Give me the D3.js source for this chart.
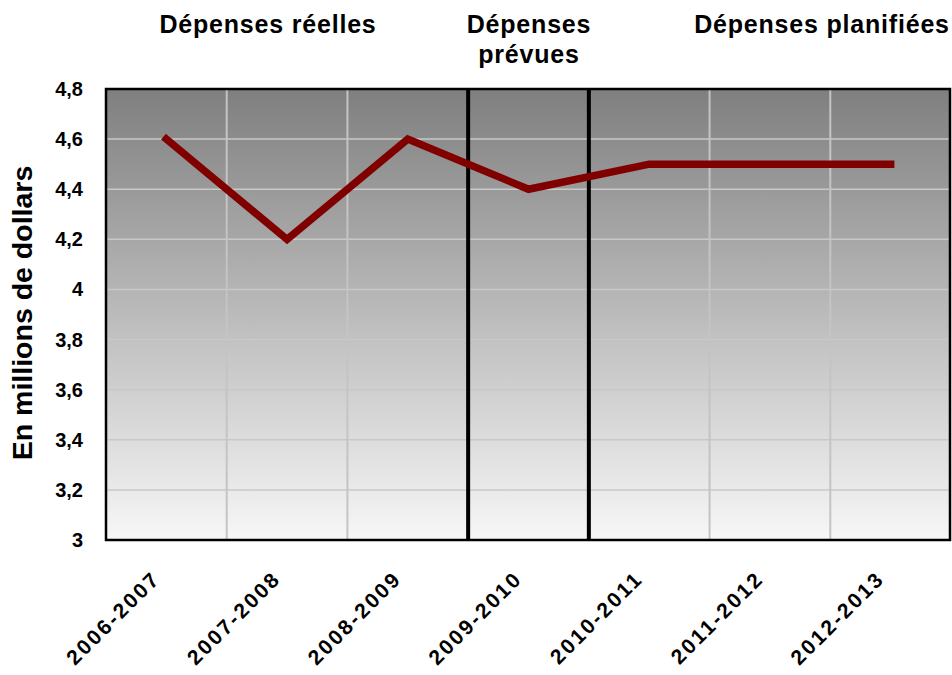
<!DOCTYPE html>
<html>
<head>
<meta charset="utf-8">
<style>
  body { margin: 0; background: #fff; }
  svg text { font-family: "Liberation Sans", Arial, sans-serif; font-weight: bold; fill: #000; }
</style>
</head>
<body>
<div id="chart"></div>
<script src="https://cdn.jsdelivr.net/npm/d3@7"></script>
<script>
// data
const years = ["2006-2007", "2007-2008", "2008-2009", "2009-2010", "2010-2011", "2011-2012", "2012-2013"];
const spending = [4.6, 4.2, 4.6, 4.4, 4.5, 4.5, 4.5];
const yTicks = [3, 3.2, 3.4, 3.6, 3.8, 4, 4.2, 4.4, 4.6, 4.8];
const sections = [
  {lines: ["Dépenses réelles"], at: 268},
  {lines: ["Dépenses", "prévues"], at: 529},
  {lines: ["Dépenses planifiées"], at: 822}
];
const dividers = ["2009-2010", "2010-2011"]; // thick black line at start of these bands

const width = 952, height = 675;
const m = {top: 89, right: 1, bottom: 135, left: 106};

const svg = d3.select("#chart").append("svg")
  .attr("width", width).attr("height", height);

const defs = svg.append("defs");
const grad = defs.append("linearGradient")
  .attr("id", "bg").attr("x1", 0).attr("y1", 0).attr("x2", 0).attr("y2", 1);
grad.append("stop").attr("offset", "0%").attr("stop-color", "#7f7f7f");
grad.append("stop").attr("offset", "100%").attr("stop-color", "#f7f7f7");

const x = d3.scaleBand().domain(years).range([m.left, width - m.right]);
const y = d3.scaleLinear().domain([3, 4.8]).range([height - m.bottom, m.top]);

// plot background
svg.append("rect")
  .attr("x", m.left).attr("y", m.top)
  .attr("width", width - m.right - m.left).attr("height", height - m.bottom - m.top)
  .attr("fill", "url(#bg)");

// horizontal grid
svg.append("g").selectAll("line").data(yTicks.slice(1, -1)).join("line")
  .attr("x1", m.left).attr("x2", width - m.right)
  .attr("y1", d => y(d)).attr("y2", d => y(d))
  .attr("stroke", "#c8c8c8").attr("stroke-width", 1.5);

// vertical grid at band boundaries
svg.append("g").selectAll("line").data(years.slice(1).filter(d => !dividers.includes(d))).join("line")
  .attr("x1", d => x(d)).attr("x2", d => x(d))
  .attr("y1", m.top).attr("y2", height - m.bottom)
  .attr("stroke", "#c4c4c4").attr("stroke-width", 2);

// thick dividers
svg.append("g").selectAll("line").data(dividers).join("line")
  .attr("x1", d => x(d)).attr("x2", d => x(d))
  .attr("y1", m.top).attr("y2", height - m.bottom)
  .attr("stroke", "#000").attr("stroke-width", 4);

// plot border
svg.append("rect")
  .attr("x", m.left).attr("y", m.top)
  .attr("width", width - m.right - m.left - 1).attr("height", height - m.bottom - m.top)
  .attr("fill", "none").attr("stroke", "#000").attr("stroke-width", 2.5);

// the line
const line = d3.line()
  .x((d, i) => x(years[i]) + x.bandwidth() / 2)
  .y(d => y(d));
svg.append("path").datum(spending)
  .attr("d", line)
  .attr("fill", "none").attr("stroke", "#800000")
  .attr("stroke-width", 7.5).attr("stroke-linejoin", "miter").attr("stroke-linecap", "square");

// y axis labels
svg.append("g").selectAll("text").data(yTicks).join("text")
  .attr("x", 83).attr("y", d => y(d)).attr("dy", "0.35em")
  .attr("text-anchor", "end").attr("font-size", 20)
  .text(d => d3.format(".1~f")(d).replace(".", ","));

// x axis labels
svg.append("g").selectAll("text").data(years).join("text")
  .attr("transform", d => `translate(${x(d) + x.bandwidth() / 2 - 5},${580}) rotate(-45)`)
  .attr("text-anchor", "end").attr("font-size", 21).attr("letter-spacing", 2.4)
  .text(d => d);

// y title
svg.append("text")
  .attr("transform", `translate(32,313) rotate(-90)`)
  .attr("text-anchor", "middle").attr("font-size", 28.5)
  .text("En millions de dollars");

// section titles
sections.forEach(s => {
  svg.append("text")
    .attr("x", s.at).attr("y", 33)
    .attr("text-anchor", "middle").attr("font-size", 25).attr("letter-spacing", 0.8)
    .selectAll("tspan").data(s.lines).join("tspan")
    .attr("x", s.at).attr("dy", (d, i) => i ? 30 : 0)
    .text(d => d);
});
</script>
</body>
</html>
